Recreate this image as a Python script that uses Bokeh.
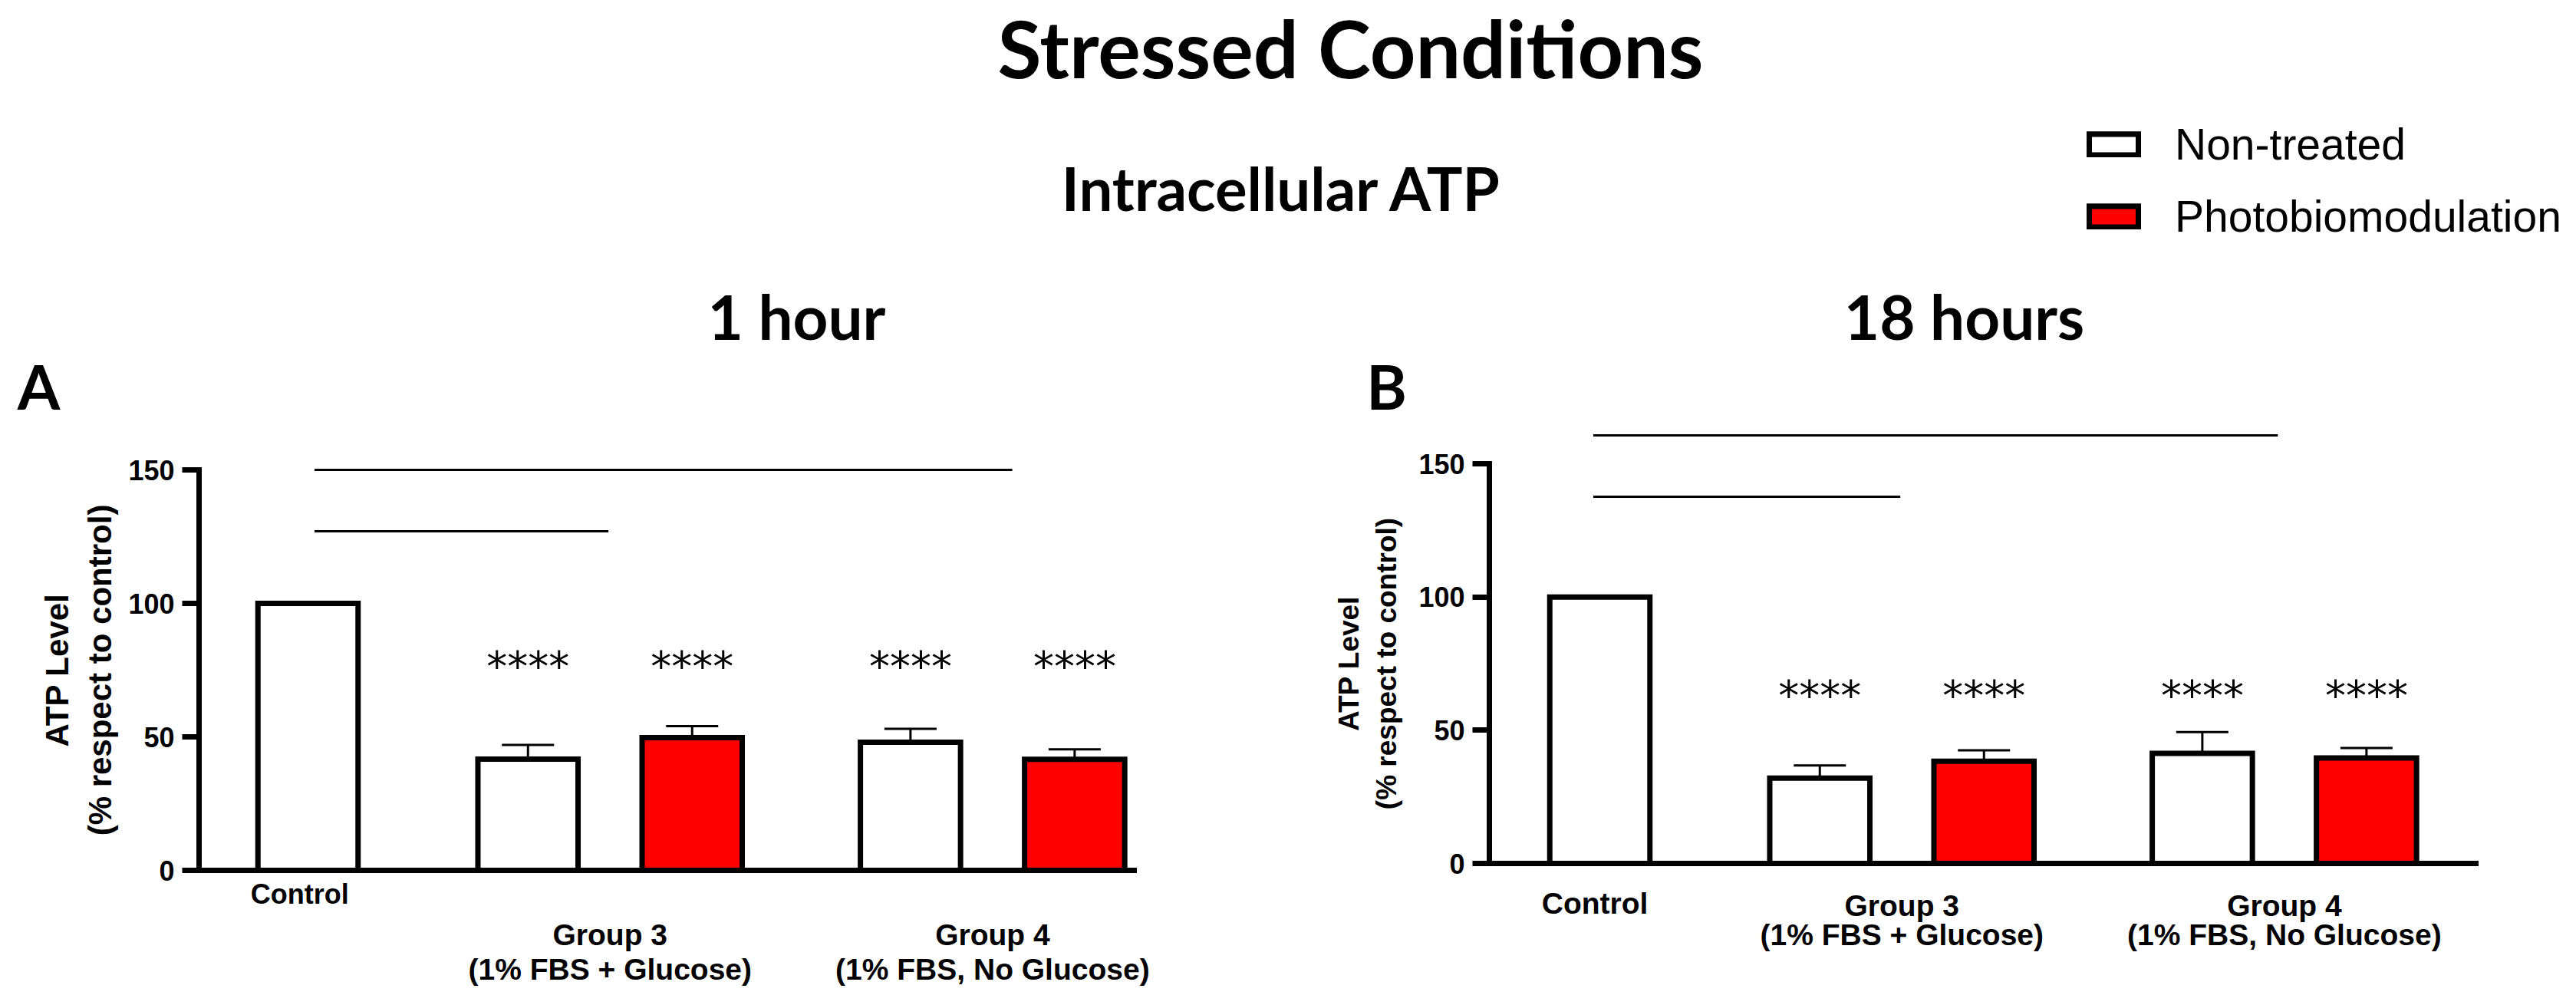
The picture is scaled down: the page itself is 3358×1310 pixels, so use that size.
from bokeh.plotting import figure
from bokeh.models import (ColumnDataSource, FixedTicker, Whisker, TeeHead, Legend,
                          LegendItem, Range1d, LinearAxis)
from bokeh.embed import file_html
from bokeh.resources import INLINE
from bokeh.core.properties import value

# ---------------- data ----------------
series = ["Non-treated", "Photobiomodulation"]
bar_group = ["Control", "Group 3", "Group 3", "Group 4", "Group 4"]
bar_series = ["Non-treated", "Non-treated", "Photobiomodulation", "Non-treated", "Photobiomodulation"]
group_titles = ["Group 3", "Group 4"]
group_subtitles = ["(1% FBS + Glucose)", "(1% FBS, No Glucose)"]

atp_1h = [100, 41.7, 49.7, 48.0, 41.6]
sem_1h = [0, 5.3, 4.3, 5.0, 3.7]
atp_18h = [100, 32.0, 38.4, 41.3, 39.6]
sem_18h = [0, 4.8, 4.1, 8.0, 3.7]
stars = ["", "****", "****", "****", "****"]
star_y_1h = 78.6
star_y_18h = 65.2
# significance lines: (y, x_start, x_end) in bar-position units
sig_1h = [(150, 1.04, 5.29), (127, 1.04, 2.83)]
sig_18h = [(160.7, 0.96, 5.13), (137.6, 0.96, 2.83)]
y_ticks = [0, 50, 100, 150]
y_label = "ATP Level\n(% respect to control)"

# ---------------- layout constants ----------------
W, H = 3350, 1302
PPU_X = 214.0                           # px per bar-position unit
x_pos = [1.0, 2.34, 3.34, 4.67, 5.67]   # bar positions
group_x = [2.84, 5.17]
colors = {"Non-treated": "white", "Photobiomodulation": "#ff0000"}
BOLD = "Liberation Sans"
SHIFT = 0.44   # Bokeh alphabetic-baseline correction (em)

panels = {
    "A": dict(vals=atp_1h, sems=sem_1h, star_y=star_y_1h, sigs=sig_1h,
              ref_px=401, y0_px=1134, ppu_y=3.48, axis_px=259, xend_px=1478,
              lab_font=42, lab_standoff=10, title="1 hour", title_px=1038, letter_px=50,
              ctrl=(0.95, 1181, 36), g1=1235, g2=1280, gfont=39),
    "B": dict(vals=atp_18h, sems=sem_18h, star_y=star_y_18h, sigs=sig_18h,
              ref_px=2085, y0_px=1125, ppu_y=3.473, axis_px=1941, xend_px=3227,
              lab_font=37, lab_standoff=18, title="18 hours", title_px=2560, letter_px=1807,
              ctrl=(0.97, 1194, 39), g1=1197, g2=1235, gfont=39),
}

p = figure(width=W, height=H, x_range=Range1d(0, W), y_range=Range1d(H, 0),
           x_axis_type=None, y_axis_type=None, output_backend="svg",
           toolbar_location=None, title=None, min_border=0)
p.outline_line_color = None
p.background_fill_color = "white"


def txt(x, y, s, font, size, xr="default", yr="default", style="bold", yoff=0.0):
    p.text(x=[x], y=[y], text=[s], text_font=value(font), text_font_size=f"{size}px",
           text_font_style=style, text_align="center", text_baseline="alphabetic",
           text_color="black", x_range_name=xr, y_range_name=yr,
           y_offset=yoff - SHIFT * size)


legend_renderers = {s: [] for s in series}

for name, c in panels.items():
    xr, yr = "x" + name, "y" + name
    to_x = lambda px, c=c: 1 + (px - c["ref_px"]) / PPU_X
    p.extra_x_ranges[xr] = Range1d(to_x(0), to_x(W))
    p.extra_y_ranges[yr] = Range1d((c["y0_px"] - H) / c["ppu_y"], c["y0_px"] / c["ppu_y"])
    x_axis_at = to_x(c["axis_px"])
    x_end = to_x(c["xend_px"])

    # y axis
    ya = LinearAxis(x_range_name=xr, y_range_name=yr, fixed_location=x_axis_at,
                    bounds=(0, 150), ticker=FixedTicker(ticks=y_ticks))
    ya.axis_line_width = 7
    ya.axis_line_color = "black"
    ya.axis_line_cap = "square"
    ya.major_tick_line_width = 7
    ya.major_tick_line_color = "black"
    ya.major_tick_out = 22
    ya.major_tick_in = 0
    ya.minor_tick_line_color = None
    ya.major_label_text_font = BOLD
    ya.major_label_text_font_style = "bold"
    ya.major_label_text_font_size = "36px"
    ya.major_label_text_color = "black"
    ya.major_label_standoff = 10
    ya.axis_label = y_label
    ya.axis_label_text_font = BOLD
    ya.axis_label_text_font_style = "bold"
    ya.axis_label_text_font_size = f"{c['lab_font']}px"
    ya.axis_label_text_color = "black"
    ya.axis_label_standoff = c["lab_standoff"]
    p.add_layout(ya, "left")

    # x axis (baseline only)
    xa = LinearAxis(x_range_name=xr, y_range_name=yr, fixed_location=0,
                    bounds=(x_axis_at, x_end), ticker=FixedTicker(ticks=[]))
    xa.axis_line_width = 7
    xa.axis_line_color = "black"
    xa.axis_line_cap = "square"
    xa.major_tick_line_color = None
    xa.minor_tick_line_color = None
    xa.major_label_text_font_size = "0px"
    p.add_layout(xa, "below")

    vals, sems = c["vals"], c["sems"]
    for s in series:
        idx = [i for i, b in enumerate(bar_series) if b == s]
        src = ColumnDataSource(dict(x=[x_pos[i] for i in idx], top=[vals[i] for i in idx],
                                    grp=[bar_group[i] for i in idx]))
        r = p.vbar(x="x", top="top", bottom=0, width=0.61, source=src, fill_color=colors[s],
                   line_color="black", line_width=7, line_join="miter",
                   x_range_name=xr, y_range_name=yr)
        legend_renderers[s].append(r)

    err_idx = [i for i, sv in enumerate(sems) if sv > 0]
    esrc = ColumnDataSource(dict(x=[x_pos[i] for i in err_idx],
                                 lower=[vals[i] for i in err_idx],
                                 upper=[vals[i] + sems[i] for i in err_idx]))
    p.add_layout(Whisker(source=esrc, base="x", lower="lower", upper="upper",
                         dimension="height", line_width=3, line_color="black",
                         lower_head=None, x_range_name=xr, y_range_name=yr,
                         upper_head=TeeHead(size=68, line_width=3, line_color="black")))

    ssrc = ColumnDataSource(dict(x=[x_pos[i] for i in err_idx],
                                 y=[c["star_y"]] * len(err_idx),
                                 t=[stars[i] for i in err_idx]))
    p.text(x="x", y="y", text="t", source=ssrc, text_font=value("DejaVu Sans"),
           text_font_size="54px", text_align="center", text_baseline="alphabetic",
           y_offset=31 - SHIFT * 54, text_color="black", x_range_name=xr, y_range_name=yr)

    for (yy, x0, x1) in c["sigs"]:
        p.segment(x0=[x0], y0=[yy], x1=[x1], y1=[yy], line_width=3, line_color="black",
                  x_range_name=xr, y_range_name=yr)

    # panel title and letter
    txt(c["title_px"], 447, c["title"], "Lato", 80)
    txt(c["letter_px"], 538, name, "Lato", 80)

    # category labels
    cx, cy, cf = c["ctrl"]
    txt(cx, cy, "Control", BOLD, cf, xr=xr)
    for gx, gt, gs in zip(group_x, group_titles, group_subtitles):
        txt(gx, c["g1"], gt, BOLD, c["gfont"], xr=xr)
        txt(gx, c["g2"], gs, BOLD, c["gfont"], xr=xr)

# main titles
txt(1760, 107, "Stressed Conditions", "Lato", 104)
txt(1671, 279, "Intracellular ATP", "Lato", 78)

legend = Legend(items=[LegendItem(label=s, renderers=legend_renderers[s]) for s in series],
                location=(2715, H - 315), glyph_width=80, glyph_height=34, label_standoff=40,
                label_text_font="Liberation Sans", label_text_font_size="57px",
                label_text_color="black", spacing=28, padding=0, margin=0,
                border_line_color=None, background_fill_alpha=0)
p.add_layout(legend)

open("out.html", "w").write(file_html(p, INLINE))
